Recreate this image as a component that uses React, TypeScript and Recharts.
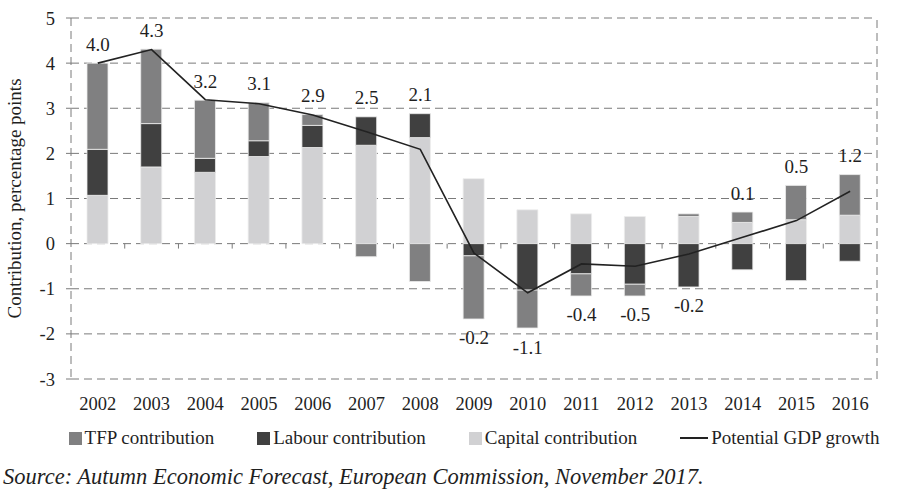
import React from 'react';
import {
  ComposedChart,
  Bar,
  Line,
  XAxis,
  YAxis,
  CartesianGrid,
  ReferenceLine,
  Legend,
  LabelList,
} from 'recharts';

const years = ['2002', '2003', '2004', '2005', '2006', '2007', '2008', '2009', '2010', '2011', '2012', '2013', '2014', '2015', '2016'];
const capital = [1.07, 1.7, 1.58, 1.93, 2.13, 2.18, 2.35, 1.44, 0.75, 0.66, 0.6, 0.6, 0.47, 0.53, 0.63];
const labour = [1.02, 0.96, 0.31, 0.35, 0.49, 0.63, 0.53, -0.27, -1.03, -0.67, -0.9, -0.96, -0.58, -0.82, -0.39];
const tfp = [1.91, 1.65, 1.29, 0.84, 0.24, -0.29, -0.84, -1.4, -0.84, -0.49, -0.26, 0.06, 0.23, 0.76, 0.9];
const growth = [4.0, 4.3, 3.19, 3.1, 2.85, 2.48, 2.09, -0.21, -1.09, -0.45, -0.5, -0.23, 0.14, 0.51, 1.16];
const growthLabels = ['4.0', '4.3', '3.2', '3.1', '2.9', '2.5', '2.1', '-0.2', '-1.1', '-0.4', '-0.5', '-0.2', '0.1', '0.5', '1.2'];
const yTicks = [-3, -2, -1, 0, 1, 2, 3, 4, 5];

const FONT = '"Liberation Serif", "Times New Roman", serif';
const TEXT = '#1f1f1f';
const COLORS = { tfp: '#808081', labour: '#404040', capital: '#d1d1d3', growth: '#222222' };
const legendOrder = ['tfp', 'labour', 'capital', 'growth'];

const data = years.map((year, i) => {
  const parts = [capital[i], labour[i], tfp[i]];
  const pos = parts.filter((v) => v > 0).reduce((a, b) => a + b, 0);
  const neg = parts.filter((v) => v < 0).reduce((a, b) => a + b, 0);
  return {
    year,
    capital: capital[i],
    labour: labour[i],
    tfp: tfp[i],
    growth: growth[i],
    labelEdge: growth[i] >= 0 ? pos : neg,
  };
});

const GrowthLabel = (props: any) => {
  const { x, y, index } = props;
  const up = growth[index] >= 0;
  return (
    <text
      x={x}
      y={up ? y - 19 : y + 19}
      textAnchor="middle"
      dominantBaseline="central"
      fontSize={19}
      fontFamily={FONT}
      fill={TEXT}
    >
      {growthLabels[index]}
    </text>
  );
};

const AxisTitle = (props: any) => {
  const { viewBox } = props;
  const cx = 14;
  const cy = viewBox.y + viewBox.height / 2;
  return (
    <text
      x={cx}
      y={cy}
      transform={`rotate(-90, ${cx}, ${cy})`}
      textAnchor="middle"
      dominantBaseline="central"
      fontSize={19}
      fontFamily={FONT}
      fill={TEXT}
    >
      Contribution, percentage points
    </text>
  );
};

const LegendContent = (props: any) => {
  const items = [...(props.payload || [])]
    .filter((p: any) => legendOrder.includes(p.dataKey))
    .sort((a: any, b: any) => legendOrder.indexOf(a.dataKey) - legendOrder.indexOf(b.dataKey));
  return (
    <div
      style={{
        height: 30,
        marginLeft: 71,
        width: 806,
        display: 'flex',
        justifyContent: 'center',
        alignItems: 'center',
        gap: 43,
        fontFamily: FONT,
        fontSize: 19,
        color: TEXT,
        whiteSpace: 'nowrap',
      }}
    >
      {items.map((it: any) => (
        <div key={it.dataKey} style={{ display: 'flex', alignItems: 'center', gap: 3, flexShrink: 0 }}>
          {it.dataKey === 'growth' ? (
            <span style={{ display: 'inline-block', width: 28, height: 2, background: COLORS.growth }} />
          ) : (
            <span style={{ display: 'inline-block', width: 13, height: 13, background: (COLORS as any)[it.dataKey] }} />
          )}
          <span>{it.value}</span>
        </div>
      ))}
    </div>
  );
};

export default function App() {
  return (
    <div style={{ position: 'absolute', top: 0, left: 0, width: 900, height: 496, background: '#fff' }}>
      <ComposedChart
        width={900}
        height={453}
        data={data}
        stackOffset="sign"
        margin={{ top: 18, right: 23, bottom: 0, left: 0 }}
      >
        <CartesianGrid vertical={false} stroke="#7a7a7a" strokeDasharray="8 5" />
        <XAxis
          dataKey="year"
          height={44}
          axisLine={false}
          tickLine={false}
          tickMargin={12}
          tick={{ fontSize: 18.5, fontFamily: FONT, fill: TEXT }}
        />
        <YAxis
          width={71}
          domain={[-3, 5]}
          ticks={yTicks}
          interval={0}
          axisLine={{ stroke: '#7a7a7a', strokeDasharray: '8 5' }}
          tickLine={{ stroke: '#7a7a7a' }}
          tickSize={5}
          tickMargin={11}
          tick={{ fontSize: 18.5, fontFamily: FONT, fill: TEXT }}
          label={<AxisTitle />}
        />
        <ReferenceLine x={years[years.length - 1]} position="end" stroke="#7a7a7a" strokeDasharray="8 5" />
        {years.slice(1).map((y) => (
          <ReferenceLine
            key={y}
            segment={[{ x: y, y: 0 }, { x: y, y: -0.11 }]}
            position="start"
            stroke="#7a7a7a"
          />
        ))}
        <Bar dataKey="capital" name="Capital contribution" stackId="a" fill={COLORS.capital} stroke="#ececec" strokeWidth={0.8} barSize={21} isAnimationActive={false} />
        <Bar dataKey="labour" name="Labour contribution" stackId="a" fill={COLORS.labour} stroke="#ececec" strokeWidth={0.8} barSize={21} isAnimationActive={false} />
        <Bar dataKey="tfp" name="TFP contribution" stackId="a" fill={COLORS.tfp} stroke="#ececec" strokeWidth={0.8} barSize={21} isAnimationActive={false} />
        <Line dataKey="growth" name="Potential GDP growth" type="linear" stroke={COLORS.growth} strokeWidth={1.6} dot={false} activeDot={false} isAnimationActive={false} />
        <Line dataKey="labelEdge" stroke="none" dot={false} activeDot={false} legendType="none" isAnimationActive={false}>
          <LabelList dataKey="labelEdge" content={<GrowthLabel />} />
        </Line>
        <Legend verticalAlign="bottom" content={<LegendContent />} />
      </ComposedChart>
      <div
        style={{
          position: 'absolute',
          top: 464,
          left: 3,
          fontFamily: FONT,
          fontStyle: 'italic',
          fontSize: 22.5,
          color: TEXT,
          whiteSpace: 'nowrap',
        }}
      >
        Source: Autumn Economic Forecast, European Commission, November 2017.
      </div>
    </div>
  );
}
